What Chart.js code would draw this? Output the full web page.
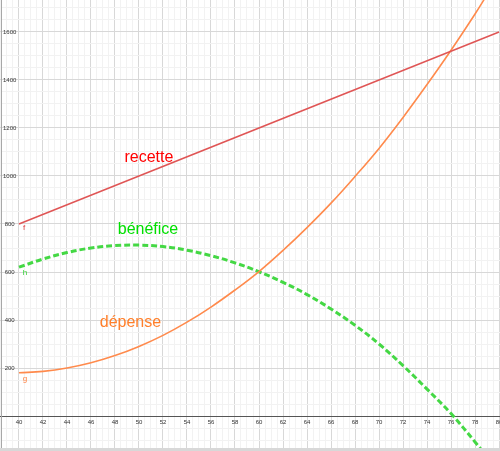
<!DOCTYPE html>
<html>
<head>
<meta charset="utf-8">
<script src="https://cdn.jsdelivr.net/npm/chart.js@4.4.0/dist/chart.umd.min.js"></script>
<style>
  body { margin: 0; background: #fff; }
  canvas { display: block; }
</style>
</head>
<body>
<canvas id="myChart" width="500" height="451"></canvas>
<script>
// f : recette (droite)
const xRecette = [40, 80];
const recette = [800, 1600];

// g : dépense, h : bénéfice
const xCourbes = [40, 42, 44, 46, 48, 50, 52, 54, 56, 58, 60, 62, 64, 66, 68, 70, 72, 74, 76, 78, 79];
const depense  = [180, 186, 200, 222, 252, 290, 336, 391, 454, 525, 602, 690, 785, 887, 998, 1115, 1244, 1381, 1524, 1675, 1755];
const benefice = [620, 654, 681, 700, 710, 712, 706, 691, 668, 638, 601, 557, 506, 446, 378, 300, 210, 112, 10, -108, -170];

// fenêtre visible
const xMin = 38.42, xMax = 80.08;
const yMin = -145.8, yMax = 1733.3;

const pts = (xs, ys) => xs.map((x, i) => ({ x: x, y: ys[i] }));

const libelles = {
  id: 'libelles',
  afterDatasetsDraw(chart) {
    const c = chart.ctx;
    const sx = chart.scales.x, sy = chart.scales.y;
    const txt = (t, x, y, col, size) => {
      c.save();
      c.font = size + 'px "Liberation Sans", Arial, sans-serif';
      c.fillStyle = col;
      c.textAlign = 'center';
      c.textBaseline = 'middle';
      c.fillText(t, sx.getPixelForValue(x), sy.getPixelForValue(y));
      c.restore();
    };
    txt('recette', 50.83, 1078, '#ff0000', 16);
    txt('bénéfice', 50.75, 778, '#00e000', 16);
    txt('dépense', 49.29, 389, '#ff7f2a', 16);
    txt('f', 40.42, 783, '#e04040', 8);
    txt('h', 40.5, 597, '#30d030', 8);
    txt('g', 40.5, 153, '#ff8040', 8);
  },
  afterDraw(chart) {
    const c = chart.ctx;
    c.save();
    c.strokeStyle = '#a8a8a8';
    c.lineWidth = 1;
    c.beginPath();
    c.moveTo(1.5, 0);
    c.lineTo(1.5, 451);
    c.stroke();
    c.fillStyle = '#d8d8d8';
    c.fillRect(0, 448, 500, 3);
    c.restore();
  }
};

const noPad = s => { s.paddingLeft = 0; s.paddingRight = 0; s.paddingTop = 0; s.paddingBottom = 0; };

const ctx = document.querySelector('#myChart');

myChart = new Chart(ctx, {
  type: 'line',
  data: {
    datasets: [{
      label: 'f',
      data: pts(xRecette, recette),
      borderColor: '#e05555',
      borderWidth: 1.6,
      pointRadius: 0,
      tension: 0
    }, {
      label: 'g',
      data: pts(xCourbes, depense),
      borderColor: '#ff8a4c',
      borderWidth: 1.6,
      pointRadius: 0,
      tension: 0.4
    }, {
      label: 'h',
      data: pts(xCourbes, benefice),
      borderColor: '#44d844',
      borderWidth: 3,
      borderDash: [6, 3],
      pointRadius: 0,
      tension: 0.4
    }]
  },
  options: {
    responsive: false,
    animation: false,
    layout: { padding: 0 },
    plugins: { legend: { display: false }, tooltip: { enabled: false } },
    scales: {
      x: {
        type: 'linear',
        position: { y: 0 },
        min: xMin,
        max: xMax,
        afterFit: s => { s.height = 0; noPad(s); },
        border: { display: true, color: '#555555', width: 1 },
        grid: {
          drawTicks: false,
          color: c => (Math.abs(c.tick.value % 2) < 1e-6 ? '#d8d8d8' : '#f2f2f2')
        },
        ticks: {
          stepSize: 0.5,
          includeBounds: false,
          autoSkip: false,
          maxRotation: 0,
          padding: 3,
          color: '#333',
          font: { size: 6, family: 'Liberation Sans' },
          callback: v => (Math.abs(v % 2) < 1e-6 ? v : '')
        }
      },
      y: {
        type: 'linear',
        position: 'left',
        min: yMin,
        max: yMax,
        afterFit: s => { s.width = 0; noPad(s); },
        border: { display: false },
        grid: {
          drawTicks: false,
          color: c => (Math.abs(c.tick.value % 200) < 1e-6 ? '#d8d8d8' : '#f2f2f2')
        },
        ticks: {
          stepSize: 50,
          includeBounds: false,
          autoSkip: false,
          mirror: true,
          crossAlign: 'center',
          padding: 3,
          color: '#333',
          font: { size: 6, family: 'Liberation Sans' },
          callback: v => (v !== 0 && Math.abs(v % 200) < 1e-6 ? v : '')
        }
      }
    }
  },
  plugins: [libelles]
});
</script>
</body>
</html>
